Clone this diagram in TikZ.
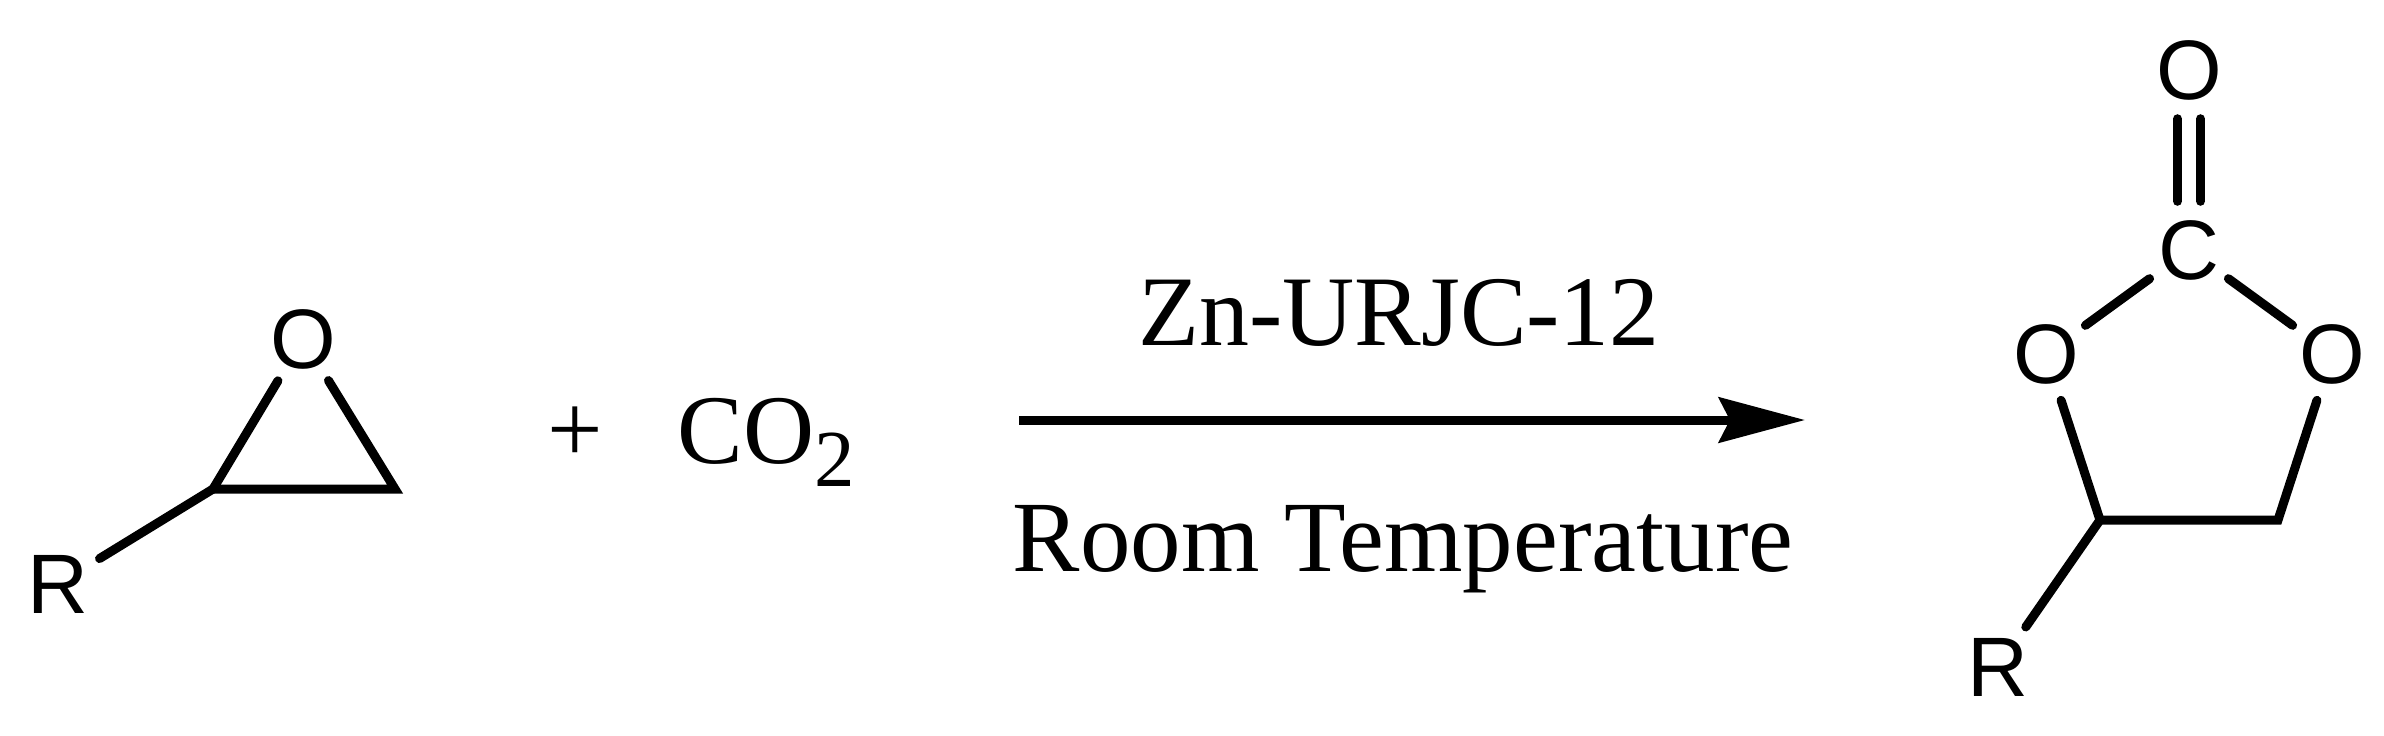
\documentclass[tikz,border=0pt]{standalone}
\usepackage{fontspec}
\setmainfont{Liberation Serif}
\newfontfamily\atomfont{Liberation Sans}
\usetikzlibrary{arrows.meta}
\tikzset{
  atom/.style={circle,inner sep=0pt,minimum size=0.96cm,font=\atomfont\fontsize{24}{24}\selectfont},
  bond/.style={line width=0.09cm,line cap=round},
  caption/.style={inner sep=0pt,anchor=base,font=\fontsize{28}{28}\selectfont}
}
\begin{document}
\begin{tikzpicture}[x=0.01cm,y=-0.01cm]
  \useasboundingbox (0,0) rectangle (2384,735);
  % epoxide
  \node[atom] (epoxO) at (303,339) {O};
  \node[atom] (epoxR) at (58,584) {R};
  \coordinate (epoxA) at (213,489);
  \coordinate (epoxB) at (395,489);
  \draw[bond] (epoxO) -- (epoxB) -- (epoxA);
  \draw[bond] (epoxO) -- (epoxA);
  \draw[bond] (epoxA) -- (epoxR);
  % plus and CO2
  \node[caption] (plus) at (575,462) {+};
  \node[caption,anchor=base west] (coii) at (677,463) {CO\raisebox{-0.23cm}{\fontsize{23}{23}\selectfont 2}};
  % reaction arrow
  \coordinate (arrowL) at (1019,420);
  \coordinate (arrowR) at (1805,420);
  \draw[-{Stealth[length=0.86cm,width=0.45cm,inset=0.11cm]},line width=0.09cm] (arrowL) -- (arrowR);
  \node[caption,font=\fontsize{28.4}{28}\selectfont] (catal) at (1399,345) {Zn-URJC-12};
  \node[caption,font=\fontsize{28.7}{28}\selectfont] (cond) at (1403,571) {Room Temperature};
  % carbonate
  \node[atom] (carbO) at (2189,70) {O};
  \node[atom] (carbC) at (2189,250) {C};
  \node[atom] (ringL) at (2046,354) {O};
  \node[atom] (ringR) at (2332,354) {O};
  \node[atom] (carbR) at (1998,667) {R};
  \coordinate (ringA) at (2100,520);
  \coordinate (ringB) at (2278,520);
  \draw[bond] ([xshift=-0.115cm]carbO.south) -- ([xshift=-0.115cm]carbC.north);
  \draw[bond] ([xshift=0.115cm]carbO.south) -- ([xshift=0.115cm]carbC.north);
  \draw[bond] (carbC) -- (ringL);
  \draw[bond] (carbC) -- (ringR);
  \draw[bond] (ringL) -- (ringA) -- (ringB) -- (ringR);
  \draw[bond] (ringA) -- (carbR);
\end{tikzpicture}
\end{document}
